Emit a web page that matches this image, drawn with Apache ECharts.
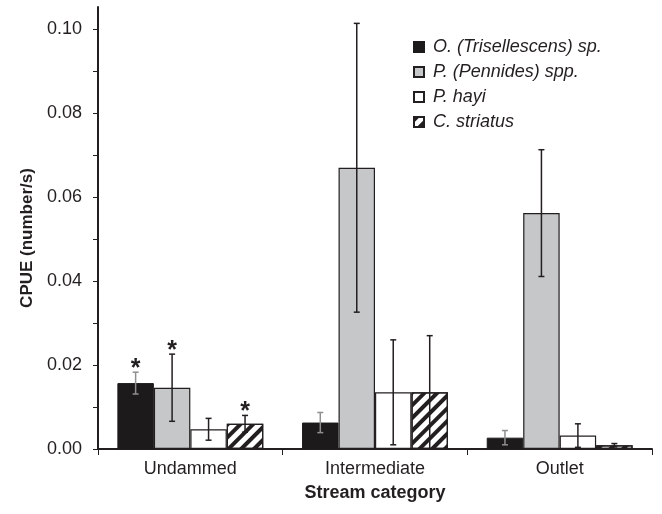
<!DOCTYPE html>
<html>
<head>
<meta charset="utf-8">
<script src="https://cdn.jsdelivr.net/npm/echarts@6/dist/echarts.min.js"></script>
<style>html,body{margin:0;padding:0;background:#fff}#c{width:662px;height:514px}</style>
</head>
<body>
<div id="c"></div>
<script>
const categories = ['Undammed', 'Intermediate', 'Outlet'];
const seriesNames = ['O. (Trisellescens) sp.', 'P. (Pennides) spp.', 'P. hayi', 'C. striatus'];
const trisellescens = [0.0157, 0.0063, 0.0027];
const pennides = [0.0146, 0.0670, 0.0562];
const hayi = [0.0047, 0.0135, 0.0032];
const striatus = [0.0060, 0.0135, 0.0009];
const trisellescensErr = [0.0026, 0.0024, 0.0017];
const pennidesErr = [0.0080, 0.0344, 0.0151];
const hayiErr = [0.0026, 0.0125, 0.0028];
const striatusErr = [0.0020, 0.0135, 0.0004];
const trisellescensStar = [true, false, false];
const pennidesStar = [true, false, false];
const hayiStar = [false, false, false];
const striatusStar = [true, false, false];
const yTickValues = [0, 0.01, 0.02, 0.03, 0.04, 0.05, 0.06, 0.07, 0.08, 0.09, 0.10];
const yLabelValues = [0, 0.02, 0.04, 0.06, 0.08, 0.10];

const values = [trisellescens, pennides, hayi, striatus];
const errs = [trisellescensErr, pennidesErr, hayiErr, striatusErr];
const stars = [trisellescensStar, pennidesStar, hayiStar, striatusStar];

const TXT = '#231f20';
const GAP = 0.21;
const FONT = 'Liberation Sans, Arial, sans-serif';

const barStyles = [
  { color: '#1c1a1b', borderColor: '#1c1a1b', borderWidth: 1 },
  { color: '#c6c7c9', borderColor: '#231f20', borderWidth: 1.2 },
  { color: '#ffffff', borderColor: '#231f20', borderWidth: 1.2 },
  { color: '#ffffff', borderColor: '#231f20', borderWidth: 1.2,
    decal: { symbol: 'rect', symbolSize: 1, dashArrayX: [1, 0], dashArrayY: [4, 5], rotation: -Math.PI / 4, color: '#231f20' } }
];
const errColors = ['#8f8f8f', '#231f20', '#231f20', '#231f20'];

const series = [];
for (let s = 0; s < 4; s++) {
  series.push({
    name: seriesNames[s], type: 'bar', data: values[s],
    barGap: '0%', barCategoryGap: (GAP * 100) + '%',
    itemStyle: barStyles[s], emphasis: { disabled: true }, z: 2
  });
}
for (let s = 0; s < 4; s++) {
  const data = categories.map((c, i) => [i, values[s][i], errs[s][i], stars[s][i] ? 1 : 0]);
  series.push({
    type: 'custom', z: 5, silent: true,
    data: data,
    encode: { x: 0, y: 1 },
    renderItem: (params, api) => {
      const cat = api.value(0), v = api.value(1), e = api.value(2), st = api.value(3);
      const band = api.size([1, 0])[0];
      const bw = band * (1 - GAP) / 4;
      const xc = api.coord([cat, v])[0] + (s - 1.5) * bw;
      const top = api.coord([cat, v + e])[1];
      const bot = api.coord([cat, Math.max(v - e, 0)])[1];
      const cap = 3;
      const style = { stroke: errColors[s], lineWidth: 1.5 };
      const children = [
        { type: 'line', shape: { x1: xc, y1: top, x2: xc, y2: bot }, style: style },
        { type: 'line', shape: { x1: xc - cap, y1: top, x2: xc + cap, y2: top }, style: style },
        { type: 'line', shape: { x1: xc - cap, y1: bot, x2: xc + cap, y2: bot }, style: style }
      ];
      if (st) {
        children.push({ type: 'text', style: { text: '*', x: xc, y: top + 9, align: 'center', verticalAlign: 'bottom',
          fontSize: 25, fontWeight: 'bold', fontFamily: FONT, fill: TXT } });
      }
      return { type: 'group', children: children };
    }
  });
}

const chart = echarts.init(document.getElementById('c'));
chart.setOption({
  animation: false,
  backgroundColor: '#fff',
  textStyle: { fontFamily: FONT },
  grid: { left: 98, right: 10, top: 7, bottom: 65, containLabel: false },
  legend: {
    data: seriesNames.map(n => ({ name: n, icon: 'rect' })), orient: 'vertical', left: 408, top: 33,
    itemWidth: 10, itemHeight: 10, itemGap: 7,
    textStyle: { fontSize: 18, fontStyle: 'italic', color: TXT, fontFamily: FONT, lineHeight: 18, padding: [0, 0, 0, 4] },
    selectedMode: false
  },
  xAxis: {
    type: 'category', data: categories,
    axisLine: { lineStyle: { color: TXT, width: 2 } },
    axisTick: { show: true, length: 6, lineStyle: { color: TXT, width: 1 } },
    axisLabel: { fontSize: 18, color: TXT, margin: 11, fontFamily: FONT },
    name: 'Stream category', nameLocation: 'middle', nameGap: 35,
    nameTextStyle: { fontSize: 18, fontWeight: 'bold', color: TXT, fontFamily: FONT }
  },
  yAxis: {
    type: 'value', min: 0, max: 0.1053,
    axisLine: { show: true, lineStyle: { color: TXT, width: 2 } },
    axisTick: { show: true, length: 5, customValues: yTickValues, lineStyle: { color: TXT, width: 1 } },
    axisLabel: { fontSize: 18, color: TXT, margin: 16, customValues: yLabelValues,
      formatter: v => v.toFixed(2), fontFamily: FONT },
    splitLine: { show: false },
    name: 'CPUE (number/s)', nameLocation: 'middle', nameGap: 62,
    nameTextStyle: { fontSize: 17, fontWeight: 'bold', color: TXT, fontFamily: FONT, padding: [0, 20, 0, 0] }
  },
  series: series
});
</script>
</body>
</html>
